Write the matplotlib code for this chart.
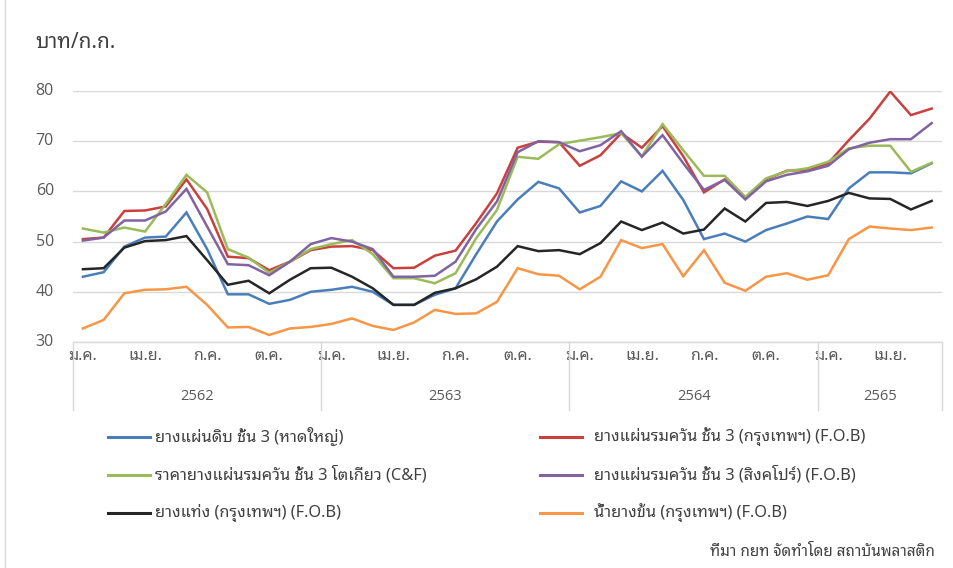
import matplotlib
matplotlib.use("Agg")
import matplotlib.pyplot as plt
from matplotlib import font_manager
from matplotlib.lines import Line2D

# ---- fonts ----
available = {f.name for f in font_manager.fontManager.ttflist}
THAI = [f for f in ["Noto Sans Thai Looped", "Noto Sans Thai", "IBM Plex Sans Thai Looped"]
        if f in available][:1] + ["DejaVu Sans"]
NUM = ["Open Sans", "DejaVu Sans"]
plt.rcParams["font.family"] = THAI

# ---- data ----
years = ["2562", "2563", "2564", "2565"]
month_labels = ["ม.ค.", "เม.ย.", "ก.ค.", "ต.ค."]
n_months = 42
y_ticks = [30, 40, 50, 60, 70, 80]

series_names = [
    "ยางแผ่นดิบ ชั้น 3 (หาดใหญ่)",
    "ยางแผ่นรมควัน ชั้น 3 (กรุงเทพฯ) (F.O.B)",
    "ราคายางแผ่นรมควัน ชั้น 3 โตเกียว (C&F)",
    "ยางแผ่นรมควัน ชั้น 3 (สิงคโปร์) (F.O.B)",
    "ยางแท่ง (กรุงเทพฯ) (F.O.B)",
    "น้ำยางข้น (กรุงเทพฯ) (F.O.B)",
]

rss_hatyai = [43.0, 43.9, 49.0, 50.8, 51.0, 55.8, 48.5, 39.5, 39.5, 37.6, 38.4, 40.0,
              40.4, 41.0, 40.0, 37.4, 37.4, 39.4, 40.7, 47.5, 54.0, 58.4, 61.9, 60.6,
              55.8, 57.1, 62.0, 60.0, 64.1, 58.3, 50.5, 51.6, 50.0, 52.3, 53.6, 55.0,
              54.5, 60.6, 63.8, 63.8, 63.6, 65.6]
rss_bkk = [50.5, 50.8, 56.1, 56.2, 57.0, 62.4, 56.5, 47.0, 46.7, 44.3, 46.0, 48.3,
           49.0, 49.1, 48.3, 44.7, 44.8, 47.2, 48.2, 53.7, 59.6, 68.7, 69.9, 69.8,
           65.1, 67.2, 71.6, 68.7, 73.0, 67.0, 59.8, 62.4, 58.6, 62.4, 64.1, 64.3,
           65.6, 70.2, 74.5, 79.9, 75.2, 76.5]
rss_tokyo = [52.6, 51.8, 52.8, 52.0, 57.5, 63.3, 59.8, 48.5, 46.8, 43.8, 46.0, 48.5,
             49.5, 50.3, 47.5, 42.7, 42.7, 41.7, 43.7, 50.7, 56.3, 66.9, 66.5, 69.4,
             70.1, 70.8, 71.6, 67.0, 73.4, 68.2, 63.1, 63.1, 58.9, 62.6, 64.0, 64.6,
             65.9, 68.6, 69.1, 69.1, 63.9, 65.7]
rss_sing = [50.2, 50.8, 54.2, 54.2, 56.0, 60.5, 53.0, 45.5, 45.3, 43.3, 46.0, 49.5,
            50.7, 50.0, 48.5, 43.0, 43.0, 43.2, 46.0, 52.5, 58.0, 67.8, 70.0, 69.8,
            68.0, 69.2, 72.0, 66.9, 71.2, 65.6, 60.3, 62.3, 58.4, 62.0, 63.3, 64.0,
            65.1, 68.4, 69.7, 70.4, 70.4, 73.6]
str20_bkk = [44.5, 44.7, 48.8, 50.1, 50.3, 51.1, 46.3, 41.4, 42.2, 39.7, 42.4, 44.7,
             44.8, 43.0, 40.7, 37.4, 37.4, 39.8, 40.7, 42.5, 45.0, 49.1, 48.1, 48.3,
             47.5, 49.7, 54.0, 52.3, 53.8, 51.6, 52.4, 56.6, 54.0, 57.7, 57.9, 57.1,
             58.1, 59.7, 58.6, 58.5, 56.4, 58.1]
latex_bkk = [32.7, 34.4, 39.7, 40.4, 40.5, 41.0, 37.4, 32.9, 33.0, 31.4, 32.7, 33.0,
             33.6, 34.7, 33.2, 32.4, 33.9, 36.4, 35.6, 35.7, 38.0, 44.7, 43.5, 43.2,
             40.5, 43.0, 50.3, 48.7, 49.5, 43.1, 48.3, 41.8, 40.2, 43.0, 43.7, 42.4,
             43.3, 50.5, 53.0, 52.6, 52.3, 52.8]

series_values = [rss_hatyai, rss_bkk, rss_tokyo, rss_sing, str20_bkk, latex_bkk]
colors = ["#4A7EBB", "#C9403D", "#9BBB59", "#8064A2", "#262626", "#F79646"]

W, H = 954, 568
fig = plt.figure(figsize=(W / 100, H / 100), dpi=100)
fig.patch.set_facecolor("white")

x0, x1 = 72.6, 942.0
ytop, ybot = 91.0, 342.0
ax = fig.add_axes([x0 / W, 1 - ybot / H, (x1 - x0) / W, (ybot - ytop) / H])

xs = list(range(n_months))
for vals, c in zip(series_values, colors):
    ax.plot(xs, vals, color=c, lw=1.8, solid_joinstyle="miter")

ax.set_xlim(-0.5, n_months - 0.5)
ax.set_ylim(y_ticks[0], y_ticks[-1])
ax.set_yticks(y_ticks)
ax.set_yticklabels([])
ax.yaxis.grid(True, color="#D9D9D9", lw=1.0)
ax.set_axisbelow(True)
for s in ["top", "right", "left"]:
    ax.spines[s].set_visible(False)
ax.spines["bottom"].set_color("#D9D9D9")
ax.spines["bottom"].set_linewidth(1.0)
ax.tick_params(axis="y", length=0)

# y tick labels placed right-aligned at a fixed pixel column
ytrans = ax.get_yaxis_transform()
for v in y_ticks:
    ax.text((54 - x0) / (x1 - x0), v, str(v), transform=ytrans, ha="right", va="center",
            fontsize=11.5, color="#595959", family=NUM, clip_on=False)

tick_pos = [i for i in range(n_months) if i % 3 == 0]
ax.set_xticks(tick_pos)
ax.set_xticklabels([month_labels[(i % 12) // 3] for i in tick_pos],
                   fontsize=11.5, color="#595959")
ax.tick_params(axis="x", length=0, pad=4)

# multi-level category axis: year labels and separators
trans = ax.get_xaxis_transform()
sep = [0, 12, 24, 36, n_months]
for b in sep:
    ax.add_line(Line2D([b - 0.5, b - 0.5], [0, -68 / (ybot - ytop)], transform=trans,
                       color="#D9D9D9", lw=1.0, clip_on=False))
for k, yr in enumerate(years):
    a, b = sep[k], sep[k + 1]
    ax.text((a + b - 1) / 2, -55 / (ybot - ytop), yr, transform=trans,
            ha="center", va="center", fontsize=10.5, color="#595959", family=NUM)

# y-axis title
fig.text(35 / W, 1 - 42 / H, "บาท/ก.ก.", fontsize=15, color="#404040",
         ha="left", va="center")

# legend (manual placement)
rows_y = [437, 475, 513]
cols = [(108, 150, 155), (540, 582, 594)]
for i, (name, c) in enumerate(zip(series_names, colors)):
    r, col = divmod(i, 2)
    lx0, lx1, tx = cols[col]
    y = 1 - rows_y[r] / H
    fig.add_artist(Line2D([lx0 / W, lx1 / W], [y, y], color=c, lw=2.2,
                          transform=fig.transFigure))
    fig.text(tx / W, y, name, fontsize=11.8, color="#404040", ha="left", va="center")

fig.text(935 / W, 1 - 553 / H, "ที่มา กยท จัดทำโดย สถาบันพลาสติก", fontsize=11,
         color="#404040", ha="right", va="center")

# left border of chart area
fig.add_artist(Line2D([5 / W, 5 / W], [0, 1], color="#D9D9D9", lw=1.0,
                      transform=fig.transFigure))

fig.savefig("out.png", dpi=100, facecolor="white")
